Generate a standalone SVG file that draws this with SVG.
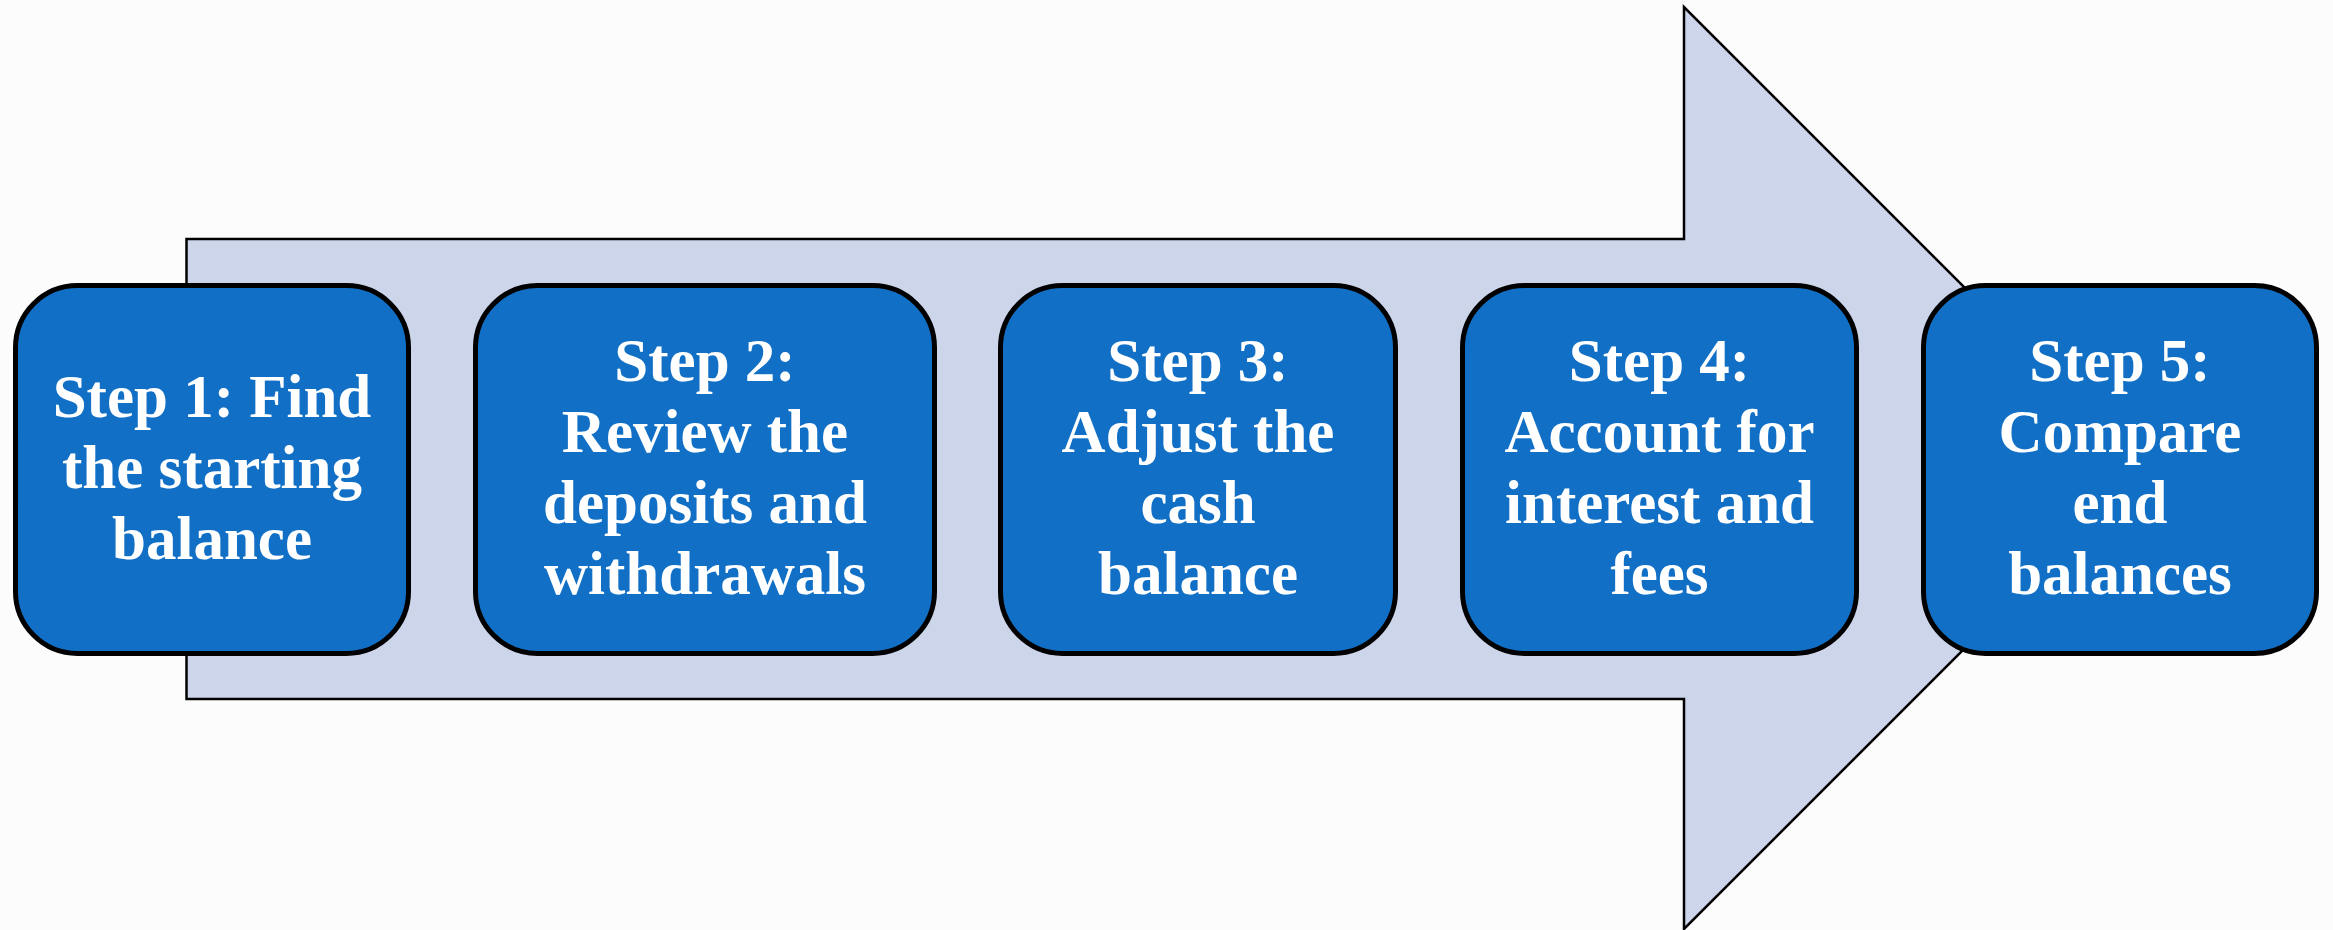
<svg xmlns="http://www.w3.org/2000/svg" width="2333" height="930" viewBox="0 0 2333 930">
  <defs>
    <style>
      .bg { fill: #FCFCFC; }
      .arrow { fill: #CDD5EA; stroke: #000000; stroke-width: 2.5; stroke-linejoin: miter; }
      .box { fill: #1170C5; stroke: #000000; stroke-width: 5; }
      .label { fill: #FFFFFF; font-family: "Liberation Serif", "Times New Roman", serif; font-weight: bold; font-size: 61px; text-anchor: middle; }
    </style>
  </defs>
  <rect class="bg" x="0" y="0" width="2333" height="930"/>
  <g id="connectors">
    <polygon class="arrow" points="186.5,239 1684,239 1684,7 2145,468 1684,929 1684,699 186.5,699"/>
  </g>
  <g id="step1">
    <rect class="box" x="15.5" y="285.5" width="393" height="368" rx="62" ry="62"/>
    <text class="label" x="212"><tspan x="212" y="416.5">Step 1: Find</tspan><tspan x="212" y="487.5">the starting</tspan><tspan x="212" y="558.5">balance</tspan></text>
  </g>
  <g id="step2">
    <rect class="box" x="475.5" y="285.5" width="459" height="368" rx="62" ry="62"/>
    <text class="label" x="705"><tspan x="705" y="381">Step 2:</tspan><tspan x="705" y="452">Review the</tspan><tspan x="705" y="523">deposits and</tspan><tspan x="705" y="594">withdrawals</tspan></text>
  </g>
  <g id="step3">
    <rect class="box" x="1000.5" y="285.5" width="395" height="368" rx="62" ry="62"/>
    <text class="label" x="1198"><tspan x="1198" y="381">Step 3:</tspan><tspan x="1198" y="452">Adjust the</tspan><tspan x="1198" y="523">cash</tspan><tspan x="1198" y="594">balance</tspan></text>
  </g>
  <g id="step4">
    <rect class="box" x="1462.5" y="285.5" width="394" height="368" rx="62" ry="62"/>
    <text class="label" x="1659.5"><tspan x="1659.5" y="381">Step 4:</tspan><tspan x="1659.5" y="452">Account for</tspan><tspan x="1659.5" y="523">interest and</tspan><tspan x="1659.5" y="594">fees</tspan></text>
  </g>
  <g id="step5">
    <rect class="box" x="1923.5" y="285.5" width="393" height="368" rx="62" ry="62"/>
    <text class="label" x="2120"><tspan x="2120" y="381">Step 5:</tspan><tspan x="2120" y="452">Compare</tspan><tspan x="2120" y="523">end</tspan><tspan x="2120" y="594">balances</tspan></text>
  </g>
</svg>
